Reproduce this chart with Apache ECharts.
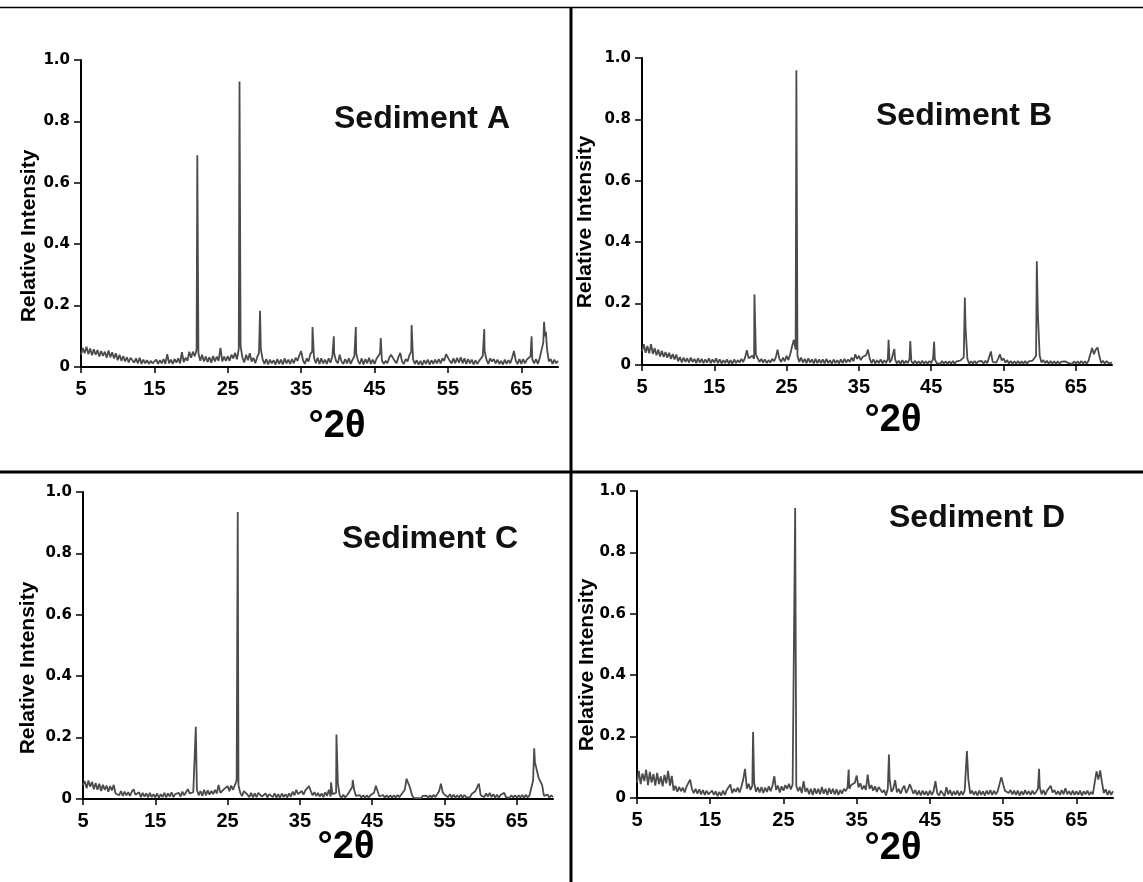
<!DOCTYPE html>
<html>
<head>
<meta charset="utf-8">
<script src="https://cdn.jsdelivr.net/npm/echarts@6/dist/echarts.min.js"></script>
<style>
html,body{margin:0;padding:0;background:#fff;}
#chart{width:1143px;height:882px;}
</style>
</head>
<body>
<div id="chart"></div>
<script>
// ---------------- DATA ----------------
const panelTitles = ['Sediment A', 'Sediment B', 'Sediment C', 'Sediment D'];
const xAxisTitle = '°2θ';
const yAxisTitle = 'Relative Intensity';
const xTickValues = [5, 15, 25, 35, 45, 55, 65];
const yTickValues = [0, 0.2, 0.4, 0.6, 0.8, 1.0];
const yTickLabels = ['0', '0.2', '0.4', '0.6', '0.8', '1.0'];
const xMin = 5, xMax = 70;
// scan grid: 5.00 .. 70.00 °2θ, step 0.25°
const scanStart = 5, scanStep = 0.25;

// Sediment A – baseline intensities (5.00 → 70.00, step 0.25), one row per 5°
const baselineA = [
  .040,.062,.045,.066,.042,.060,.038,.058,.040,.055,.034,.052,.036,.050,.030,.054,.032,.048,.028,.045,
  .022,.040,.020,.036,.018,.032,.015,.030,.024,.014,.028,.012,.030,.010,.024,.012,.022,.010,.020,.012,
  .008,.024,.010,.022,.012,.026,.010,.042,.012,.024,.010,.026,.014,.028,.012,.048,.016,.030,.020,.050,
  .030,.050,.035,.055,.045,.020,.040,.018,.034,.016,.032,.014,.036,.018,.034,.020,.062,.018,.034,.020,
  .036,.020,.040,.028,.046,.025,.060,.068,.030,.015,.040,.022,.045,.018,.030,.012,.032,.045,.060,.025,
  .010,.026,.008,.024,.012,.022,.008,.026,.010,.024,.008,.028,.012,.024,.010,.026,.012,.030,.020,.038,
  .052,.022,.010,.028,.018,.042,.050,.030,.012,.030,.010,.028,.012,.024,.010,.028,.014,.034,.045,.020,
  .012,.040,.018,.010,.026,.012,.028,.010,.024,.035,.045,.020,.010,.028,.008,.026,.012,.030,.010,.024,
  .010,.026,.035,.045,.022,.010,.020,.012,.030,.040,.045,.020,.012,.032,.046,.018,.010,.026,.018,.038,
  .050,.025,.010,.022,.008,.020,.006,.022,.010,.024,.008,.022,.010,.024,.012,.026,.012,.028,.020,.042,
  .046,.020,.012,.028,.012,.030,.014,.032,.012,.028,.010,.026,.012,.024,.008,.022,.010,.020,.014,.036,
  .052,.024,.010,.028,.018,.026,.012,.024,.010,.020,.008,.024,.010,.022,.012,.030,.052,.020,.010,.026,
  .010,.026,.012,.024,.018,.035,.025,.012,.026,.010,.028,.055,.080,.100,.060,.018,.026,.010,.024,.012,.020
];
// Sediment A – diffraction peaks [°2θ, intensity]
const peaksA = [
  [20.85, 0.69], [26.6, 0.93], [29.4, 0.183], [36.55, 0.13], [39.45, 0.10],
  [42.45, 0.13], [45.85, 0.094], [50.05, 0.137], [59.95, 0.124], [66.4, 0.10],
  [68.1, 0.147], [68.35, 0.115]
];

// Sediment B
const baselineB = [
  .045,.068,.040,.062,.038,.068,.036,.055,.032,.050,.028,.046,.026,.042,.024,.040,.020,.036,.018,.034,
  .012,.026,.008,.024,.010,.022,.008,.024,.010,.020,.006,.022,.008,.020,.006,.018,.008,.022,.006,.018,
  .008,.022,.006,.018,.005,.016,.006,.018,.005,.016,.004,.018,.006,.016,.008,.020,.010,.024,.048,.022,
  .018,.030,.020,.034,.022,.010,.020,.008,.018,.006,.016,.008,.020,.012,.024,.050,.020,.010,.024,.012,
  .030,.016,.035,.060,.082,.050,.030,.010,.024,.008,.020,.006,.022,.008,.018,.005,.020,.006,.018,.006,
  .018,.005,.020,.006,.016,.004,.018,.006,.016,.005,.018,.006,.020,.008,.018,.010,.024,.012,.035,.020,
  .030,.016,.026,.020,.032,.050,.020,.006,.018,.005,.016,.006,.018,.005,.016,.006,.020,.008,.016,.040,
  .018,.005,.014,.004,.016,.005,.014,.006,.020,.012,.004,.014,.005,.012,.004,.014,.005,.012,.004,.013,
  .006,.020,.018,.006,.012,.004,.013,.005,.012,.004,.012,.005,.013,.004,.012,.006,.014,.008,.025,.120,
  .020,.004,.012,.005,.013,.004,.012,.006,.013,.005,.014,.006,.012,.044,.010,.016,.008,.020,.035,.015,
  .022,.008,.016,.005,.013,.004,.012,.005,.013,.004,.012,.005,.013,.004,.012,.006,.014,.008,.030,.165,
  .030,.008,.016,.006,.014,.004,.013,.005,.012,.004,.012,.004,.011,.005,.012,.016,.006,.012,.004,.012,
  .005,.012,.004,.013,.005,.012,.004,.014,.015,.055,.035,.050,.057,.030,.006,.014,.005,.013,.006,.012,.008
];
const peaksB = [
  [20.55, 0.23], [26.35, 0.96], [39.1, 0.082], [39.9, 0.052], [42.1, 0.078],
  [45.4, 0.076], [49.65, 0.22], [59.6, 0.338]
];

// Sediment C
const baselineC = [
  .045,.058,.035,.060,.040,.056,.032,.052,.030,.050,.026,.046,.030,.044,.024,.042,.028,.046,.018,.024,
  .012,.026,.010,.024,.012,.022,.010,.024,.032,.014,.008,.022,.006,.020,.008,.018,.005,.020,.006,.016,
  .005,.018,.004,.016,.006,.020,.005,.018,.008,.022,.006,.016,.010,.020,.008,.024,.012,.022,.032,.018,
  .012,.022,.018,.030,.012,.026,.010,.030,.012,.028,.014,.026,.016,.030,.018,.046,.020,.014,.032,.038,
  .042,.025,.044,.030,.026,.060,.045,.020,.010,.026,.030,.014,.006,.020,.005,.018,.006,.020,.026,.008,
  .004,.018,.005,.016,.020,.006,.018,.005,.016,.004,.018,.006,.016,.005,.018,.008,.024,.012,.030,.016,
  .012,.026,.014,.028,.022,.042,.026,.012,.022,.010,.020,.008,.018,.006,.022,.010,.030,.008,.016,.020,
  .020,.050,.012,.004,.014,.005,.012,.020,.030,.040,.030,.010,.004,.013,.005,.012,.004,.012,.005,.012,
  .006,.020,.043,.025,.008,.004,.013,.004,.012,.005,.012,.004,.012,.005,.013,.006,.014,.010,.030,.066,
  .062,.035,.012,.004,.010,.003,.009,.003,.010,.004,.011,.004,.012,.005,.014,.006,.016,.025,.050,.022,
  .014,.020,.006,.016,.005,.014,.004,.012,.005,.014,.004,.013,.006,.012,.005,.016,.020,.025,.030,.050,
  .012,.018,.006,.018,.008,.020,.006,.016,.005,.014,.004,.013,.008,.020,.006,.012,.004,.012,.005,.012,
  .004,.012,.005,.013,.004,.014,.005,.012,.015,.060,.120,.115,.070,.072,.045,.010,.004,.014,.005,.012,.006
];
const peaksC = [
  [20.6, 0.235], [26.4, 0.935], [39.3, 0.054], [40.05, 0.21], [42.3, 0.062], [67.4, 0.165]
];

// Sediment D
const baselineD = [
  .050,.088,.045,.080,.055,.092,.042,.085,.050,.078,.040,.082,.045,.070,.038,.075,.048,.088,.040,.072,
  .024,.040,.020,.036,.022,.034,.018,.036,.042,.060,.030,.016,.030,.014,.028,.012,.026,.010,.024,.012,
  .008,.024,.010,.022,.006,.020,.008,.024,.010,.026,.020,.044,.016,.030,.020,.034,.018,.036,.060,.095,
  .030,.046,.026,.040,.050,.020,.035,.018,.036,.016,.034,.020,.038,.022,.040,.071,.026,.040,.018,.038,
  .024,.042,.030,.046,.028,.044,.045,.040,.022,.036,.016,.055,.020,.032,.012,.030,.010,.032,.014,.030,
  .012,.036,.014,.030,.010,.032,.014,.030,.012,.028,.010,.026,.014,.030,.022,.035,.030,.042,.038,.050,
  .073,.035,.048,.028,.040,.026,.076,.030,.042,.024,.038,.020,.036,.040,.018,.026,.008,.030,.060,.020,
  .030,.058,.018,.030,.014,.030,.040,.016,.028,.045,.048,.014,.026,.010,.024,.008,.024,.010,.022,.008,
  .024,.010,.022,.055,.016,.008,.024,.030,.006,.035,.012,.026,.008,.022,.010,.024,.008,.022,.010,.025,
  .030,.060,.014,.024,.010,.022,.008,.024,.010,.022,.008,.024,.012,.026,.010,.024,.012,.022,.025,.068,
  .045,.024,.030,.016,.026,.012,.024,.010,.024,.008,.022,.010,.026,.012,.022,.010,.024,.012,.020,.030,
  .035,.012,.026,.010,.024,.028,.040,.018,.026,.012,.022,.010,.026,.012,.032,.012,.022,.010,.024,.010,
  .022,.010,.024,.008,.022,.012,.024,.010,.020,.012,.050,.087,.060,.090,.050,.016,.028,.010,.024,.010,.022
];
const peaksD = [
  [20.85, 0.215], [26.6, 0.945], [33.9, 0.093], [39.4, 0.142], [50.05, 0.153], [59.9, 0.095]
];

const baselines = [baselineA, baselineB, baselineC, baselineD];
const peakLists = [peaksA, peaksB, peaksC, peaksD];

// ---------------- LAYOUT ----------------
const grids = [
  { left: 81, top: 60, width: 477, height: 307 },
  { left: 642, top: 58, width: 470, height: 307 },
  { left: 83, top: 492, width: 470, height: 307 },
  { left: 637, top: 491, width: 476, height: 307 }
];
const titlePos = [[422, 119], [964, 116], [430, 539], [977, 518]];
const yNamePos = [[29, 236], [585, 222], [28, 668], [587, 665]];
const xNamePos = [[337, 427], [893, 421], [346, 848], [893, 849]];

function buildPattern(baseline, peaks) {
  const pts = baseline.map((y, i) => [scanStart + i * scanStep, y]);
  peaks.forEach(p => pts.push([p[0], p[1]]));
  pts.sort((a, b) => a[0] - b[0]);
  return pts;
}

const lineColor = '#4b4b4b';
const axisColor = '#000';

const option = {
  animation: false,
  backgroundColor: '#fff',
  grid: grids.map(g => Object.assign({ containLabel: false, outerBoundsMode: 'none' }, g)),
  xAxis: grids.map((g, i) => ({
    type: 'value', gridIndex: i, min: xMin, max: xMax,
    axisLine: { show: true, onZero: false, lineStyle: { color: axisColor, width: 2 } },
    axisTick: { show: true, customValues: xTickValues, length: 6, lineStyle: { color: axisColor, width: 1.5 } },
    axisLabel: {
      customValues: xTickValues, margin: 12, color: '#000',
      fontFamily: 'Liberation Sans, Arial, sans-serif', fontWeight: 'bold', fontSize: 20
    },
    splitLine: { show: false }
  })),
  yAxis: grids.map((g, i) => ({
    type: 'value', gridIndex: i, min: 0, max: 1, interval: 0.2,
    axisLine: { show: true, onZero: false, lineStyle: { color: axisColor, width: 2 } },
    axisTick: { show: true, length: 7, lineStyle: { color: axisColor, width: 1.5 } },
    axisLabel: {
      margin: 11, color: '#000',
      fontFamily: 'DejaVu Sans, sans-serif', fontWeight: 'bold', fontSize: 15,
      formatter: v => {
        const k = yTickValues.findIndex(t => Math.abs(t - v) < 1e-6);
        return k >= 0 ? yTickLabels[k] : '';
      }
    },
    splitLine: { show: false }
  })),
  series: baselines.map((b, i) => ({
    type: 'line', xAxisIndex: i, yAxisIndex: i,
    data: buildPattern(b, peakLists[i]),
    showSymbol: false, symbol: 'none',
    lineStyle: { color: lineColor, width: 1.8 },
    emphasis: { disabled: true }
  })),
  graphic: [
    { type: 'line', shape: { x1: 0, y1: 7.5, x2: 1143, y2: 7.5 }, style: { stroke: '#000', lineWidth: 1.5 } },
    { type: 'line', shape: { x1: 571, y1: 7, x2: 571, y2: 882 }, style: { stroke: '#000', lineWidth: 3 } },
    { type: 'line', shape: { x1: 0, y1: 472, x2: 1143, y2: 472 }, style: { stroke: '#000', lineWidth: 3 } }
  ]
    .concat(panelTitles.map((t, i) => ({
      type: 'text', x: titlePos[i][0], y: titlePos[i][1],
      style: { text: t, fill: '#111', font: 'bold 32px "Liberation Sans", Arial, sans-serif', textAlign: 'center', textVerticalAlign: 'middle' }
    })))
    .concat(yNamePos.map(p => ({
      type: 'text', x: p[0], y: p[1], rotation: Math.PI / 2,
      style: { text: yAxisTitle, fill: '#000', font: 'bold 21px "Liberation Sans", Arial, sans-serif', textAlign: 'center', textVerticalAlign: 'middle' }
    })))
    .concat(xNamePos.map(p => ({
      type: 'text', x: p[0], y: p[1],
      style: { text: xAxisTitle, fill: '#000', font: 'bold 38px "Liberation Sans", Arial, sans-serif', textAlign: 'center', textVerticalAlign: 'middle' }
    })))
};

const chart = echarts.init(document.getElementById('chart'), null, { renderer: 'canvas' });
chart.setOption(option);
</script>
</body>
</html>
